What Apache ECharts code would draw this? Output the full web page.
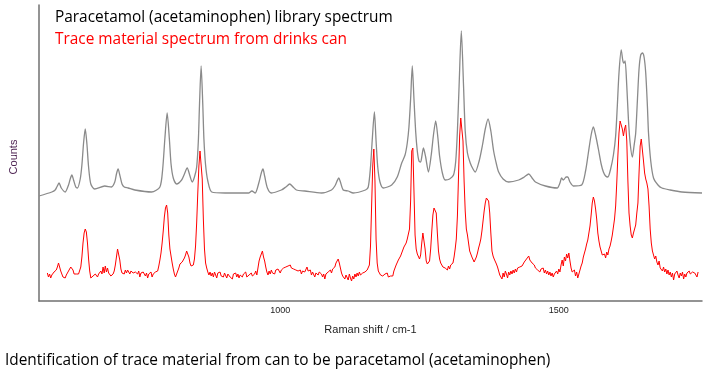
<!DOCTYPE html>
<html>
<head>
<meta charset="utf-8">
<script src="https://cdn.jsdelivr.net/npm/echarts@6/dist/echarts.min.js"></script>
<style>
html,body{margin:0;padding:0;background:#fff;}
#chart{width:705px;height:383px;}
</style>
</head>
<body>
<div id="chart"></div>
<script>
// Raman shift (cm-1) / counts (arbitrary units)
var xTickLabels = [1000, 1500];

var libraryData = [
[567,105],[590,109],[596,111],[599,114],[603,118],[607,113],[614,109],[620,116],[623,122],[626,126],[629,121],[633,114],[636,113],
[641,122],[644,136],[647,158],[650,172],[653,157],[656,134],[660,117],[667,112],[685,115],[697,114],
[703,119],[706,127],[709,132],[712,126],[716,117],[720,114],[727,113],[739,111],[769,109],[784,114],
[789,132],[793,163],[797,188],[801,162],[804,137],[808,123],[814,117],[823,121],[828,127],[833,133],[838,125],[842,119],[846,124],
[850,134],[853,160],[855,195],[858,235],[861,196],[863,162],[866,136],[870,120],[877,109],[901,108],[943,108],[949,110],[955,108],
[962,119],[966,128],[969,132],[972,125],[977,113],[984,108],[1002,111],[1010,114],[1017,117],[1023,114],[1029,111],[1044,110],[1074,108],[1092,111],
[1098,115],[1102,120],[1105,123],[1108,119],[1113,111],[1122,110],[1131,108],[1153,111],[1158,114],
[1162,134],[1165,160],[1169,189],[1172,160],[1175,134],[1179,119],[1185,113],[1200,116],[1210,124],[1218,138],[1224,146],
[1228,158],[1231,174],[1234,202],[1237,235],[1240,202],[1243,170],[1246,150],[1249,140],[1252,139],[1254,144],[1257,153],[1261,144],[1266,129],
[1271,146],[1275,166],[1279,180],[1283,163],[1286,145],[1291,128],[1296,121],[1304,122],[1311,126],
[1315,140],[1318,170],[1321,215],[1325,270],[1329,215],[1332,170],[1336,148],[1341,138],[1346,132],
[1350,129],[1357,140],[1363,156],[1368,172],[1373,182],[1378,170],[1383,150],[1388,137],[1392,129],[1400,122],[1410,119],
[1428,121],[1438,124],[1446,127],[1452,123],[1458,119],[1476,115],[1497,113],[1502,118],[1505,123],[1508,121],[1510,122],[1513,124],[1516,124],[1520,119],[1526,115],
[1541,116],[1548,130],[1553,148],[1558,166],[1562,174],[1566,166],[1571,152],[1576,137],[1580,129],[1584,125],[1588,124],[1593,132],
[1598,146],[1602,165],[1605,195],[1608,228],[1612,251],[1615,240],[1617,238],[1619,240],[1622,215],[1625,181],[1628,158],[1632,144],
[1635,155],[1638,168],[1641,200],[1644,232],[1647,246],[1650,248],[1653,244],[1656,228],[1659,195],[1661,168],[1665,140],[1670,123],
[1678,116],[1685,113],[1700,111],[1721,109],[1757,108]
];

var traceData = [
[582,28],[584,24],[586,27],[588,23],[590,26],[592,25],[594,29],[596,28],[598,31],[600,34],[602,38],[604,36],[606,30],[608,27],[610,24],[612,25],[614,23],[616,26],[618,28],[620,30],
[622,32],[624,34],[626,35],[628,31],[630,27],[632,25],[634,27],[636,25],[638,27],[640,29],[642,34],[644,44],[646,58],[648,68],[650,72],[652,69],[654,58],[656,42],[658,30],[660,23],
[662,22],[664,25],[666,24],[668,27],[670,25],[672,24],[674,27],[676,26],[678,30],[680,27],[682,34],[684,28],[686,35],[688,29],[690,33],[692,28],[694,27],[696,25],[698,24],[700,27],
[702,30],[704,36],[706,44],[708,52],[710,51],[712,41],[714,32],[716,28],[718,30],[720,27],[722,31],[724,28],[726,31],[728,29],[730,27],[732,30],[734,32],[736,28],[738,30],[740,29],
[742,31],[744,27],[746,30],[748,24],[750,28],[752,26],[754,29],[756,27],[758,25],[760,28],[762,23],[764,27],[766,25],[768,29],[770,24],[772,27],[774,25],[776,29],[778,31],[780,30],
[782,35],[784,41],[786,48],[788,58],[790,70],[792,84],[794,93],[796,96],[798,88],[800,66],[802,52],[804,45],[806,38],[808,32],[810,27],[812,24],[814,26],[816,30],[818,33],[820,37],
[822,35],[824,39],[826,38],[828,43],[830,46],[832,50],[834,49],[836,44],[838,38],[840,35],[842,34],[844,36],[846,42],[848,55],[850,78],[852,108],[854,135],[856,150],[858,151],[860,122],
[862,82],[864,52],[866,38],[868,33],[870,29],[872,26],[874,29],[876,25],[878,28],[880,24],[882,29],[884,27],[886,23],[888,28],[890,26],[892,29],[894,25],[896,27],[898,24],[900,28],
[902,26],[904,23],[906,27],[908,29],[910,24],[912,26],[914,22],[916,27],[918,25],[920,28],[922,24],[924,27],[926,23],[928,26],[930,28],[932,24],[934,27],[936,25],[938,29],[940,24],
[942,22],[944,26],[946,24],[948,28],[950,25],[952,23],[954,27],[956,30],[958,26],[960,33],[962,40],[964,44],[966,47],[968,50],[970,44],[972,40],[974,34],[976,29],[978,26],[980,30],
[982,27],[984,31],[986,28],[988,30],[990,27],[992,31],[994,29],[996,32],[998,30],[1000,28],[1002,31],[1004,29],[1006,33],[1008,31],[1010,34],[1012,32],[1014,35],[1016,33],[1018,36],[1020,33],
[1022,35],[1024,32],[1026,34],[1028,31],[1030,33],[1032,30],[1034,28],[1036,31],[1038,27],[1040,30],[1042,32],[1044,29],[1046,31],[1048,34],[1050,30],[1052,28],[1054,31],[1056,26],[1058,29],[1060,27],
[1062,24],[1064,28],[1066,30],[1068,26],[1070,29],[1072,31],[1074,27],[1076,24],[1078,27],[1080,22],[1082,27],[1084,25],[1086,29],[1088,27],[1090,31],[1092,28],[1094,32],[1096,30],[1098,34],[1100,38],
[1102,36],[1104,42],[1106,38],[1108,33],[1110,28],[1112,25],[1114,27],[1116,22],[1118,26],[1120,24],[1122,21],[1124,27],[1126,23],[1128,20],[1130,25],[1132,22],[1134,27],[1136,24],[1138,28],[1140,25],
[1142,29],[1144,26],[1146,24],[1148,28],[1150,26],[1152,29],[1154,27],[1156,31],[1158,30],[1160,36],[1162,55],[1164,95],[1166,135],[1168,152],[1170,120],[1172,62],[1174,38],[1176,30],[1178,28],[1180,26],
[1182,27],[1184,25],[1186,24],[1188,27],[1190,26],[1192,28],[1194,24],[1196,26],[1198,25],[1200,27],[1202,25],[1204,30],[1206,33],[1208,36],[1210,38],[1212,41],[1214,43],[1216,45],[1218,47],[1220,51],
[1222,54],[1224,52],[1226,58],[1228,62],[1230,67],[1232,72],[1234,100],[1236,150],[1238,153],[1240,110],[1242,66],[1244,52],[1246,47],[1248,45],[1250,42],[1252,46],[1254,58],[1256,68],[1258,66],[1260,52],
[1262,40],[1264,37],[1266,36],[1268,40],[1270,52],[1272,70],[1274,86],[1276,93],[1278,95],[1280,88],[1282,68],[1284,50],[1286,42],[1288,38],[1290,37],[1292,34],[1294,36],[1296,33],[1298,35],[1300,31],
[1302,35],[1304,32],[1306,36],[1308,34],[1310,38],[1312,44],[1314,52],[1316,62],[1318,85],[1320,125],[1322,165],[1324,183],[1326,185],[1328,160],[1330,120],[1332,90],[1334,72],[1336,66],[1338,58],[1340,50],
[1342,47],[1344,44],[1346,42],[1348,39],[1350,40],[1352,44],[1354,48],[1356,53],[1358,57],[1360,62],[1362,70],[1364,80],[1366,90],[1368,98],[1370,103],[1372,105],[1374,100],[1376,88],[1378,68],[1380,50],
[1382,45],[1384,42],[1386,40],[1388,37],[1390,34],[1392,30],[1394,26],[1396,24],[1398,22],[1400,28],[1402,24],[1404,30],[1406,27],[1408,23],[1410,29],[1412,26],[1414,30],[1416,27],[1418,31],[1420,28],
[1422,32],[1424,29],[1426,33],[1428,31],[1430,34],[1432,32],[1434,35],[1436,37],[1438,39],[1440,38],[1442,42],[1444,40],[1446,45],[1448,41],[1450,43],[1452,38],[1454,40],[1456,36],[1458,33],[1460,35],
[1462,31],[1464,33],[1466,29],[1468,32],[1470,30],[1472,33],[1474,28],[1476,31],[1478,27],[1480,30],[1482,26],[1484,29],[1486,25],[1488,28],[1490,24],[1492,27],[1494,25],[1496,30],[1498,27],[1500,32],
[1502,29],[1504,36],[1506,41],[1508,35],[1510,44],[1512,40],[1514,47],[1516,43],[1518,48],[1520,40],[1522,33],[1524,29],[1526,27],[1528,31],[1530,25],[1532,29],[1534,23],[1536,27],[1538,31],[1540,35],
[1542,38],[1544,44],[1546,48],[1548,52],[1550,57],[1552,61],[1554,68],[1556,75],[1558,86],[1560,98],[1562,104],[1564,100],[1566,92],[1568,82],[1570,68],[1572,60],[1574,54],[1576,50],[1578,46],[1580,44],
[1582,47],[1584,43],[1586,49],[1588,46],[1590,52],[1592,55],[1594,60],[1596,66],[1598,74],[1600,82],[1602,95],[1604,118],[1606,145],[1608,168],[1610,180],[1612,182],[1614,172],[1616,165],[1618,172],[1620,176],
[1622,160],[1624,120],[1626,88],[1628,75],[1630,66],[1632,63],[1634,68],[1636,72],[1638,76],[1640,88],[1642,98],[1644,128],[1646,155],[1648,162],[1650,164],[1652,140],[1654,128],[1656,122],[1658,118],[1660,112],
[1662,95],[1664,72],[1666,58],[1668,50],[1670,46],[1672,42],[1674,45],[1676,39],[1678,36],[1680,40],[1682,33],[1684,35],[1686,30],[1688,34],[1690,29],[1692,32],[1694,27],[1696,31],[1698,26],[1700,29],
[1702,24],[1704,28],[1706,21],[1708,27],[1710,25],[1712,30],[1714,26],[1716,23],[1718,28],[1720,25],[1722,29],[1724,22],[1726,27],[1728,24],[1730,28],[1732,26],[1734,30],[1736,27],[1738,25],[1740,29],
[1742,31],[1744,28],[1746,30],[1748,24],[1750,29]
];

var titleLibrary = 'Paracetamol (acetaminophen) library spectrum';
var titleTrace = 'Trace material spectrum from drinks can';
var caption = 'Identification of trace material from can to be paracetamol (acetaminophen)';

var chart = echarts.init(document.getElementById('chart'));
chart.setOption({
  animation: false,
  backgroundColor: '#ffffff',
  grid: { left: 39, right: 3, top: 5, bottom: 82 },
  xAxis: {
    type: 'value', min: 567, max: 1757,
    name: 'Raman shift / cm-1', nameLocation: 'middle', nameGap: 23,
    nameTextStyle: { fontFamily: 'Liberation Sans', fontSize: 11, color: '#222' },
    axisLine: { show: true, lineStyle: { color: '#707070', width: 1.5 } },
    axisTick: { show: false },
    splitLine: { show: false },
    axisLabel: { customValues: xTickLabels, formatter: function (v) { return String(v); },
      fontFamily: 'Liberation Sans', fontSize: 9, color: '#222', margin: 5 }
  },
  yAxis: {
    type: 'value', min: 0, max: 296,
    axisLine: { show: true, lineStyle: { color: '#707070', width: 1.5 } },
    axisTick: { show: false },
    splitLine: { show: false },
    axisLabel: { show: false }
  },
  graphic: [
    { type: 'text', left: 55, top: 10, style: { text: titleLibrary, fill: '#000', font: '15.4px "Open Sans"' } },
    { type: 'text', left: 55, top: 32, style: { text: titleTrace, fill: '#ff0000', font: '15.4px "Open Sans"' } },
    { type: 'text', left: 5, top: 353, style: { text: caption, fill: '#000', font: '15.4px "Open Sans"' } },
    { type: 'text', x: 14, y: 157, rotation: Math.PI / 2,
      style: { text: 'Counts', fill: '#4a1f4f', font: '11px "Liberation Sans"', align: 'center', verticalAlign: 'middle' } }
  ],
  series: [
    { type: 'line', data: libraryData, showSymbol: false, smooth: 0.25,
      lineStyle: { color: '#8a8a8a', width: 1.3 }, z: 2 },
    { type: 'line', data: traceData, showSymbol: false,
      lineStyle: { color: '#ff0000', width: 1 }, z: 3 }
  ]
});
</script>
</body>
</html>
